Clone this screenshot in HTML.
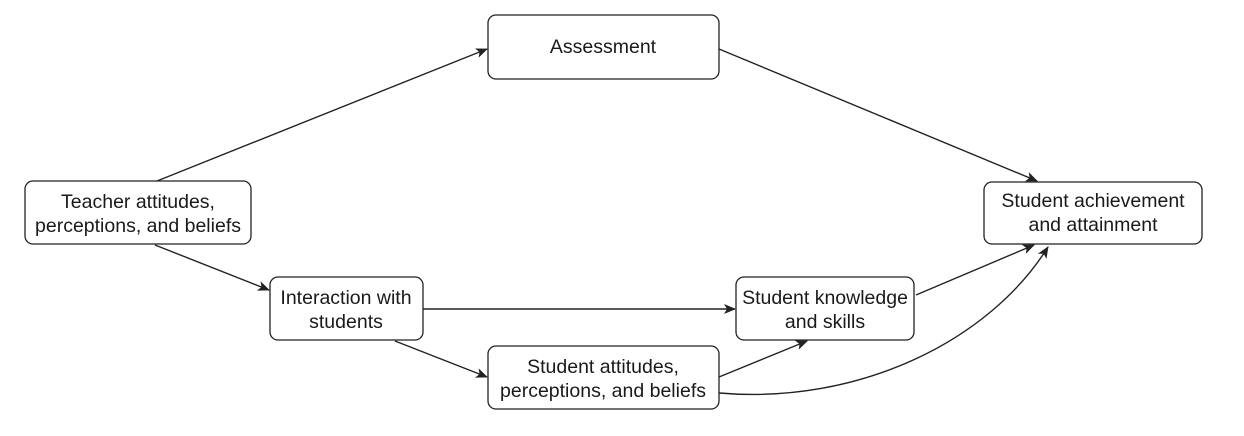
<!DOCTYPE html>
<html><head><meta charset="utf-8"><style>
html,body{margin:0;padding:0;background:#fff;}
svg{display:block}
text{font-family:"Liberation Sans",sans-serif;font-size:19.5px;fill:#1a1a1a;text-anchor:middle}
rect{fill:#fff;stroke:#222;stroke-width:1.3}
.l{stroke:#222;stroke-width:1.4;fill:none}
</style></head><body>
<svg width="1244" height="436" viewBox="0 0 1244 436">
<defs><marker id="a" markerWidth="12" markerHeight="10" refX="11" refY="5" orient="auto" markerUnits="userSpaceOnUse"><path d="M0,0 L12,5 L0,10 L3,5 z" fill="#222"/></marker></defs>
<line class="l" x1="157" y1="181" x2="487" y2="49" marker-end="url(#a)"/>
<line class="l" x1="719" y1="49" x2="1037" y2="181" marker-end="url(#a)"/>
<line class="l" x1="155" y1="245" x2="269" y2="290" marker-end="url(#a)"/>
<line class="l" x1="423" y1="309" x2="735" y2="309" marker-end="url(#a)"/>
<line class="l" x1="395" y1="341" x2="487" y2="377" marker-end="url(#a)"/>
<line class="l" x1="719" y1="377" x2="807" y2="341" marker-end="url(#a)"/>
<line class="l" x1="916" y1="295" x2="1034" y2="245" marker-end="url(#a)"/>
<path class="l" d="M719,393 C860,405 990,340 1048,247" marker-end="url(#a)"/>
<rect x="25" y="181" width="226" height="63" rx="8"/>
<text x="138" y="208">Teacher attitudes,</text><text x="138" y="232">perceptions, and beliefs</text>
<rect x="488" y="15" width="231" height="64" rx="8"/>
<text x="603" y="53">Assessment</text>
<rect x="270" y="277" width="153" height="63" rx="8"/>
<text x="346" y="304">Interaction with</text><text x="346" y="328">students</text>
<rect x="488" y="346" width="231" height="63" rx="8"/>
<text x="603" y="373">Student attitudes,</text><text x="603" y="397">perceptions, and beliefs</text>
<rect x="736" y="277" width="178" height="63" rx="8"/>
<text x="825" y="304">Student knowledge</text><text x="825" y="328">and skills</text>
<rect x="984" y="182" width="218" height="62" rx="8"/>
<text x="1093" y="207">Student achievement</text><text x="1093" y="231">and attainment</text>
</svg>
</body></html>
